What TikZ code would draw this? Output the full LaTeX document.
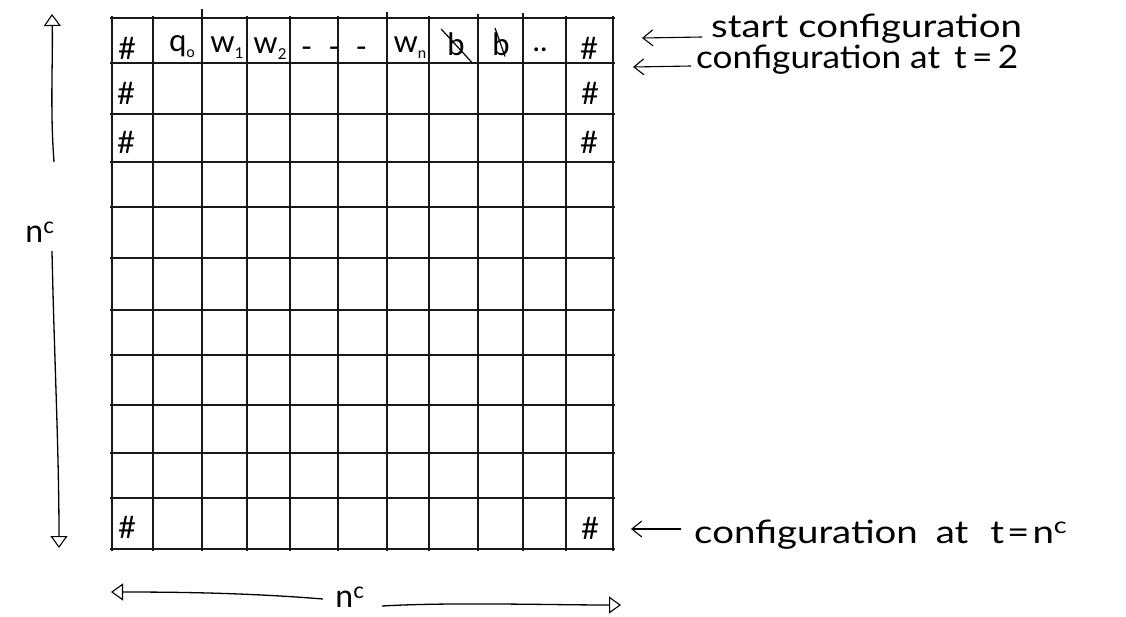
\documentclass[tikz,border=0pt]{standalone}
\usepackage{fontspec}
\setmainfont{Lato}
\usetikzlibrary{arrows.meta}
\newcommand\mysub[1]{\raisebox{-6pt}{\fontsize{15}{15}\selectfont #1}}
\begin{document}
\begin{tikzpicture}[x=1pt,y=-1pt,
  gridline/.style={line width=1.7pt,black!90},
  hand/.style={font=\fontsize{32}{34}\selectfont\addfontfeatures{FakeStretch=1.2}, inner sep=0pt, anchor=base west},
  handb/.style={font=\fontsize{32}{34}\selectfont\addfontfeatures{FakeStretch=1.1}, inner sep=0pt, anchor=base west},
  cellsym/.style={font=\fontsize{31}{33}\selectfont, inner sep=0pt, anchor=base},
  dimlabel/.style={font=\fontsize{32}{34}\selectfont, inner sep=0pt},
  dimline/.style={line width=1.3pt},
  barb/.style={line width=1.1pt,-{Straight Barb[length=10pt,width=16pt]}},
  opentip/.style={-{Triangle[open,length=12pt,width=17pt,line width=1.1pt]}}]
\useasboundingbox (0,0) rectangle (1126,616);
% grid
\foreach \x in {112,153,202,247,290,338,387,429,478,523,566,613}
  \draw[gridline] (\x,16) -- (\x,551);
\foreach \y in {18,63,114,162,207,258,310,355,405,453,498,549}
  \draw[gridline] (110,\y) -- (615,\y);
\foreach \x/\t in {202/9,387/12,478/14,523/13}
  \draw[gridline] (\x,\t) -- (\x,18);
% first row contents
\node[cellsym] (h11) at (127,59) {\#};
\node[cellsym] (q0) at (182,51) {q\mysub{o}};
\node[cellsym] (w1) at (227,52) {w\mysub{1}};
\node[cellsym] (w2) at (270,53) {w\mysub{2}};
\node[cellsym] (dots1) at (334,57) {-\ \ -\ \ -};
\node[cellsym] (wn) at (410,52) {w\mysub{n}};
\node[cellsym] (b1) at (456,55) {b};
\draw[line width=1.2pt] ([xshift=-6pt,yshift=3pt]b1.north west) -- ([xshift=7pt,yshift=-7pt]b1.south east);
\node[cellsym] (b2) at (501,55) {b};
\draw[line width=1.2pt] ([xshift=-6pt,yshift=4pt]b2.north) -- ([xshift=4pt,yshift=-1pt]b2.south);
\node[cellsym] (dots2) at (540,51) {..};
\node[cellsym] (h1n) at (589,59) {\#};
% other # cells
\node[cellsym] (h21) at (126,104) {\#};
\node[cellsym] (h2n) at (590,104) {\#};
\node[cellsym] (h31) at (126,153) {\#};
\node[cellsym] (h3n) at (589,153) {\#};
\node[cellsym] (hl1) at (127,538) {\#};
\node[cellsym] (hln) at (590,539) {\#};
% right labels
\node[hand] (start) at (711,37) {start configuration};
\node[handb] (conf2) at (696,68) {configuration at\hspace{14pt}t\,=\,2};
\node[hand] (confn) at (694,543) {configuration\hspace{18pt}at\hspace{22pt}t\hspace{3pt}=\hspace{3pt}n\textsuperscript{c}};
\coordinate (a1) at (642,38);
\coordinate (s1) at (702,37);
\coordinate (a2) at (633,67);
\coordinate (s2) at (691,66);
\coordinate (a3) at (631,529);
\coordinate (s3) at (681,529);
\draw[barb] (s1) -- (a1);
\draw[barb] (s2) -- (a2);
\draw[barb] (s3) -- (a3);
% vertical dimension
\node[dimlabel] (nv) at (40,232) {n\textsuperscript{c}};
\coordinate (vt) at (52,14);
\coordinate (vb) at (59,548);
\coordinate (v1) at (54,162);
\coordinate (v2) at (52,251);
\draw[dimline,opentip] (v1) .. controls (50,110) and (53,60) .. (vt);
\draw[dimline,opentip] (v2) .. controls (54,350) and (59,450) .. (vb);
% horizontal dimension
\node[dimlabel] (nh) at (350,597) {n\textsuperscript{c}};
\coordinate (hl) at (111,592);
\coordinate (hr) at (621,605);
\coordinate (h1) at (323,599);
\coordinate (h2) at (382,606);
\draw[dimline,opentip] (h1) .. controls (250,593) and (180,592) .. (hl);
\draw[dimline,opentip] (h2) .. controls (450,602) and (550,605) .. (hr);
\end{tikzpicture}
\end{document}
